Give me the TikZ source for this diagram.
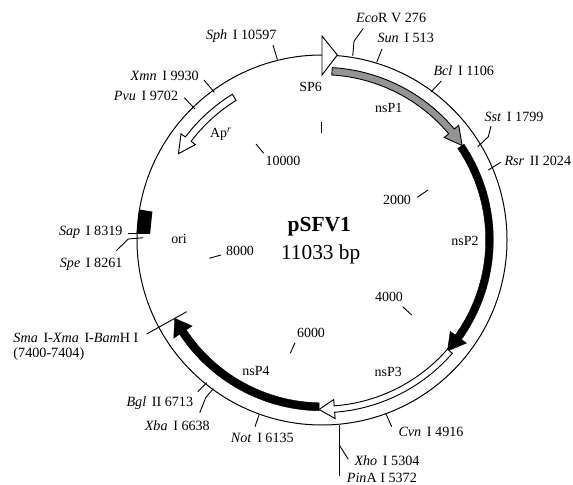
\documentclass[tikz,border=0pt]{standalone}
\usepackage{fontspec}
\setmainfont{Liberation Serif}
\newcommand{\garc}[7]{% start, base, tip, R, bodyhalf, headhalf, style
  \pgfmathsetmacro{\sa}{#1-90}\pgfmathsetmacro{\ba}{#2-90}\pgfmathsetmacro{\ta}{#3-90}
  \pgfmathsetmacro{\ro}{#4+#5}\pgfmathsetmacro{\ri}{#4-#5}
  \pgfmathsetmacro{\hro}{#4+#6}\pgfmathsetmacro{\hri}{#4-#6}
  \draw[#7] (\sa:\ro) arc[start angle=\sa,end angle=\ba,radius=\ro]
    -- (\ba:\hro) -- (\ta:#4) -- (\ba:\hri) -- (\ba:\ri)
    arc[start angle=\ba,end angle=\sa,radius=\ri] -- cycle;}
\newcommand{\site}[2]{\textit{#1}\hspace{0.4em}#2}
\tikzset{
  lbl/.style={font=\fontsize{14.2}{15}\selectfont,inner sep=0pt,anchor=base west},
  lble/.style={lbl,anchor=base east},
  ctr/.style={font=\fontsize{14}{15}\selectfont,inner sep=0pt,anchor=center},
  wire/.style={line width=0.9pt,line join=round},
  ring/.style={line width=1pt},
  white arrow/.style={draw=black,line width=0.95pt,fill=white,line join=miter},
  gray arrow/.style={draw=black,line width=0.9pt,fill=black!42,line join=miter},
  black arrow/.style={draw=black,line width=0.4pt,fill=black,line join=miter}
}
\begin{document}
\begin{tikzpicture}[x=1bp,y=1bp,yscale=-1]
\useasboundingbox (0,0) rectangle (573,485);
\begin{scope}[shift={(322,240)}]
  \draw[ring] (0,0) circle[radius=185];
  \garc{56}{125.5}{131.5}{167.5}{3.8}{10}{black arrow}
  \garc{181}{236.5}{242}{166.8}{4}{11}{black arrow}
  \garc{3.4}{50}{56}{169}{3.7}{9.5}{gray arrow}
  \garc{131}{175.8}{181}{169.5}{3.2}{9.5}{white arrow}
  \garc{328.4}{307}{301}{167.5}{3.6}{9}{white arrow}
  \pgfmathsetmacro{\bo}{272-90}\pgfmathsetmacro{\bb}{279.5-90}
  \fill (\bo:172) -- (\bo:185.5) -- (\bb:185.5) -- (\bb:172) -- cycle;
\end{scope}
\draw[white arrow] (322,36) -- (337.3,55) -- (322,75) -- cycle;
% restriction-site leaders
\draw[wire] (352.7,56) -- (354,41.3) -- (363.3,28.3);
\draw[wire] (376.7,62.3) -- (382,49);
\draw[wire] (431,92) -- (441.3,81);
\draw[wire] (477.7,146.7) -- (488.3,136.7) -- (491,126);
\draw[wire] (488.3,170) -- (500.7,162.3);
\draw[wire] (277.7,60.7) -- (273,45);
\draw[wire] (214.3,92.3) -- (204,80);
\draw[wire] (195,109) -- (184.3,97.7);
\draw[wire] (143.3,233.3) -- (128,233.3);
\draw[wire] (143.3,237.7) -- (128.3,239) -- (116.3,250.7);
\draw[wire] (186.7,311.7) -- (146.7,334);
\draw[wire] (206.7,382.7) -- (197.7,391.7);
\draw[wire] (213.3,388.7) -- (205.7,397.7) -- (199.7,412.7);
\draw[wire] (259,415) -- (255,426.7);
\draw[wire] (339.3,425) -- (339.3,476);
\draw[wire] (339.3,445) -- (348.3,459.3);
\draw[wire] (385.7,413.3) -- (391.7,426.7);
% scale ticks
\draw[wire] (321.7,121.7) -- (321.7,133.3);
\draw[wire] (417.3,197.3) -- (428,190);
\draw[wire] (402.7,306.7) -- (411.7,315);
\draw[wire] (295,342.7) -- (290.3,353.3);
\draw[wire] (221,255) -- (209.3,258.3);
\draw[wire] (256,144) -- (263.7,153.3);
% site labels
\node[lbl] (eco) at (356,23) {\textit{Eco}R V 276};
\node[lbl] (sun) at (377.3,42.5) {\site{Sun}{I 513}};
\node[lbl] (bcl) at (433.3,75.5) {\site{Bcl}{I 1106}};
\node[lbl] (sst) at (484.3,121.5) {\site{Sst}{I 1799}};
\node[lbl] (rsr) at (504.3,165.2) {\site{Rsr}{II 2024}};
\node[lble] (sph) at (276.7,39.5) {\site{Sph}{I 10597}};
\node[lble] (xmn) at (199,80.8) {\site{Xmn}{I 9930}};
\node[lble] (pvu) at (178.3,100.2) {\site{Pvu}{I 9702}};
\node[lble] (sap) at (122.7,235.2) {\site{Sap}{I 8319}};
\node[lble] (spe) at (122.7,267.8) {\site{Spe}{I 8261}};
\node[lbl] (sma) at (13.3,342.8) {\site{Sma}{I-}\textit{Xma}\hspace{0.4em}I-\textit{Bam}H I};
\node[lbl] (rng) at (13.3,357.2) {(7400-7404)};
\node[lble] (bgl) at (193.3,406.2) {\site{Bgl}{II 6713}};
\node[lble] (xba) at (210,430.5) {\site{Xba}{I 6638}};
\node[lble] (not) at (294,442.8) {\site{Not}{I 6135}};
\node[lbl] (cvn) at (398.3,436.2) {\site{Cvn}{I 4916}};
\node[lbl] (xho) at (354.3,465.2) {\site{Xho}{I 5304}};
\node[lbl] (pin) at (346.7,482.8) {\textit{Pin}A I 5372};
% feature and scale labels
\node[ctr] (sp6) at (310.7,86.7) {SP6};
\node[ctr] (p1) at (388.7,107.7) {nsP1};
\node[ctr] (p2) at (465,241) {nsP2};
\node[ctr] (p3) at (388.3,371.7) {nsP3};
\node[ctr] (p4) at (256,370.7) {nsP4};
\node[ctr] (ori) at (179,239) {ori};
\node[ctr] (ap) at (220.7,134) {Ap\textsuperscript{\textit{r}}};
\node[ctr] (t10) at (283,161) {10000};
\node[ctr] (t2) at (397,200) {2000};
\node[ctr] (t4) at (389,297) {4000};
\node[ctr] (t6) at (311,333) {6000};
\node[ctr] (t8) at (240,251) {8000};
\node[font=\bfseries\fontsize{21.6}{24}\selectfont,inner sep=0pt,anchor=base] (name) at (319.3,231) {pSFV1};
\node[font=\fontsize{21.4}{24}\selectfont,inner sep=0pt,anchor=base] (size) at (320.7,259.5) {11033 bp};
\end{tikzpicture}
\end{document}
